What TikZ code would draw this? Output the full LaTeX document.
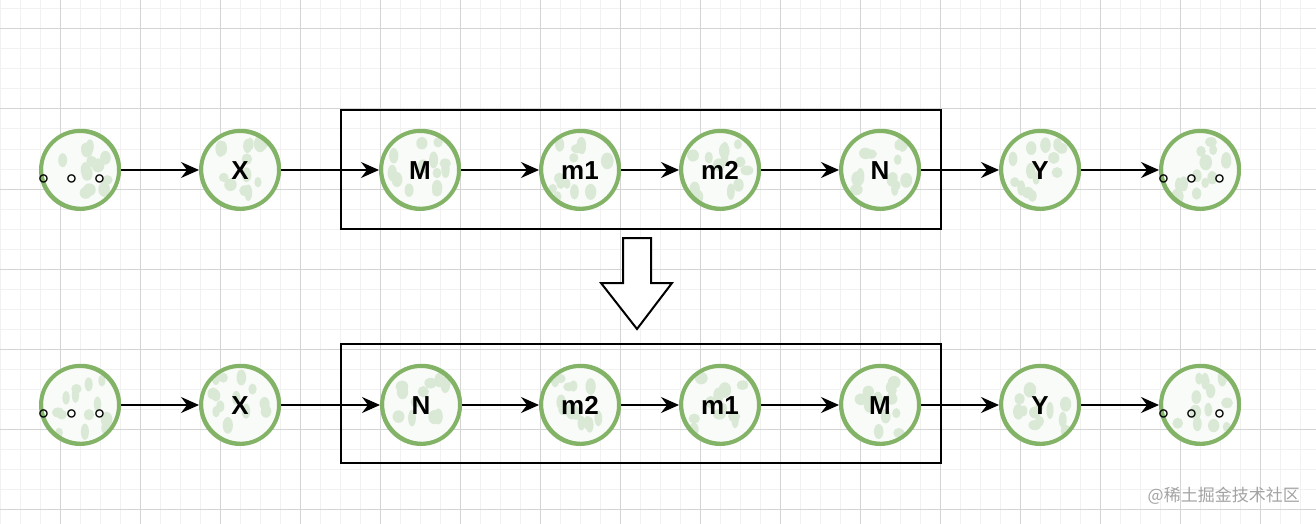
\documentclass[tikz,border=0pt]{standalone}
\usepackage{fontspec}
\setmainfont{Liberation Sans}
\newfontfamily\cjk{Noto Sans CJK SC}
\usetikzlibrary{arrows.meta}
\usetikzlibrary{positioning}
\usetikzlibrary{calc}
\definecolor{ballgreen}{HTML}{82B366}
\definecolor{ballfill}{HTML}{F8FBF7}
\definecolor{speck}{HTML}{DAE9D6}
\definecolor{gridminor}{HTML}{F1F1F1}
\definecolor{gridmajor}{HTML}{D4D4D4}
\definecolor{marktext}{HTML}{A3A3A3}
\pgfmathsetseed{11}
\tikzset{
	ball/.style={circle, draw=ballgreen, line width=4pt, fill=ballfill,
		minimum size=78pt, inner sep=0pt, text height=19pt, text depth=0pt,
		font=\fontsize{26}{30}\selectfont\bfseries,
		path picture={
			\foreach \i in {1,...,13}
				\fill[speck, rotate around={rand*90:(path picture bounding box.center)}]
					($(path picture bounding box.center)+(rand*28,rand*28)$)
					ellipse ({5+rand*1.5} and {6.5+rand*2});
		},
		postaction={draw=ballgreen, line width=1.6pt, transform canvas={xshift=1.2pt, yshift=1.4pt}}},
	dotball/.style={ball, text height=23pt, font=\cjk\fontsize{28}{30}\selectfont},
	link/.style={-{Stealth[length=18pt,width=16pt,inset=6pt]}, line width=1.4pt},
	groupbox/.style={draw, line width=1.5pt, minimum width=600pt, minimum height=119pt, inner sep=0pt},
}

\begin{document}
\begin{tikzpicture}[x=1pt,y=-1pt]
	\useasboundingbox (0,0) rectangle (1316,524);
	% grid
	\foreach \x in {0,20,...,1316} \draw[gridminor, line width=1pt] (\x,0) -- (\x,524);
	\foreach \y in {9,29,...,524} \draw[gridminor, line width=1pt] (0,\y) -- (1316,\y);
	\foreach \x in {60,140,...,1316} \draw[gridmajor, line width=1pt] (\x,0) -- (\x,524);
	\foreach \y in {29,109,...,524} \draw[gridmajor, line width=1pt] (0,\y) -- (1316,\y);

	% groups
	\node[groupbox] (topgroup) at (641,169.5) {};
	\node[groupbox] (botgroup) at (641,403.5) {};

	% top row
	\node[dotball] (topleft) at (80,170) {\makebox[0pt]{。。。}};
	\node[ball] (topX) at (240,170) {X};
	\node[ball] (topM) at (420,170) {M};
	\node[ball] (topma) at (580,170) {m1};
	\node[ball] (topmb) at (720,170) {m2};
	\node[ball] (topN) at (880,170) {N};
	\node[ball] (topY) at (1040,170) {Y};
	\node[dotball] (topright) at (1200,170) {\makebox[0pt]{。。。}};
	\draw[link] (topleft) -- (topX);
	\draw[link] (topX) -- (topM);
	\draw[link] (topM) -- (topma);
	\draw[link] (topma) -- (topmb);
	\draw[link] (topmb) -- (topN);
	\draw[link] (topN) -- (topY);
	\draw[link] (topY) -- (topright);

	% bottom row
	\node[dotball] (botleft) at (80,405) {\makebox[0pt]{。。。}};
	\node[ball] (botX) at (240,405) {X};
	\node[ball] (botN) at (421,405) {N};
	\node[ball] (botmb) at (580,405) {m2};
	\node[ball] (botma) at (720,405) {m1};
	\node[ball] (botM) at (880,405) {M};
	\node[ball] (botY) at (1040,405) {Y};
	\node[dotball] (botright) at (1200,405) {\makebox[0pt]{。。。}};
	\draw[link] (botleft) -- (botX);
	\draw[link] (botX) -- (botN);
	\draw[link] (botN) -- (botmb);
	\draw[link] (botmb) -- (botma);
	\draw[link] (botma) -- (botM);
	\draw[link] (botM) -- (botY);
	\draw[link] (botY) -- (botright);

	% down arrow
	\draw[line width=2pt, line join=miter, fill=white]
		(623,238) -- (651,238) -- (651,283) -- (672,283) -- (637,329)
		-- (601,283) -- (623,283) -- cycle;

	% watermark
	\node[anchor=east, text=marktext, font=\cjk\fontsize{17}{20}\selectfont, inner sep=0pt]
		(mark) at (1300,496) {@稀土掘金技术社区};
\end{tikzpicture}
\end{document}
